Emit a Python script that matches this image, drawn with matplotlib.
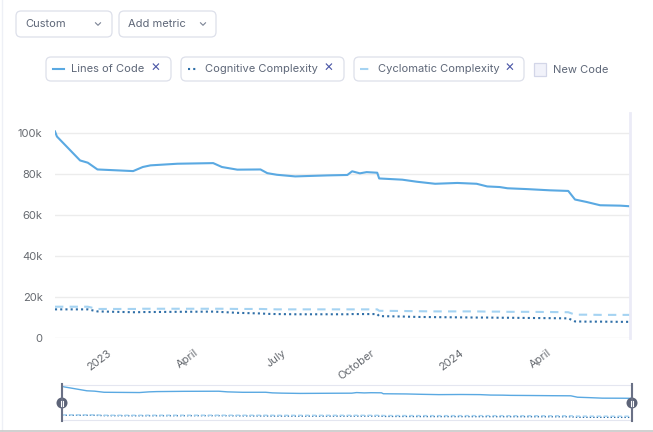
import numpy as np
import pandas as pd
import matplotlib
matplotlib.use('Agg')
import matplotlib.pyplot as plt
import matplotlib.dates as mdates
from matplotlib.patches import FancyBboxPatch, Rectangle, Circle

plt.rcParams['font.family'] = ['Inter', 'DejaVu Sans']

# analysis dates and measure values
dates = pd.to_datetime([
    '2022-11-08', '2022-11-10', '2022-12-04', '2022-12-12', '2022-12-22',
    '2023-01-28', '2023-02-01', '2023-02-07', '2023-02-15', '2023-03-15',
    '2023-04-21', '2023-04-30', '2023-05-16', '2023-06-09', '2023-06-16',
    '2023-06-26', '2023-07-15', '2023-08-18', '2023-09-07', '2023-09-12',
    '2023-09-20', '2023-09-27', '2023-10-08', '2023-10-10', '2023-11-03',
    '2023-11-18', '2023-12-07', '2023-12-30', '2024-01-19', '2024-01-30',
    '2024-02-12', '2024-02-20', '2024-03-11', '2024-04-04', '2024-04-23',
    '2024-04-30', '2024-05-12', '2024-05-26', '2024-06-16', '2024-06-26',
])
linesOfCode = [
    101000, 98500, 86800, 85700, 82400,
    81600, 82400, 83600, 84400, 85200,
    85500, 83600, 82300, 82400, 80600,
    79800, 79000, 79500, 79700, 81500,
    80500, 81100, 80800, 78000, 77400,
    76400, 75400, 75800, 75400, 74100,
    73800, 73200, 72800, 72200, 71900,
    67700, 66500, 64900, 64700, 64400,
]
cognitive = [
    14000, 14000, 14000, 14000, 13000,
    12600, 12600, 12700, 12700, 12800,
    12900, 12700, 12300, 12000, 11800,
    11700, 11600, 11600, 11600, 11700,
    11700, 11700, 11700, 10700, 10500,
    10300, 10200, 10100, 10000, 10000,
    9900, 9900, 9800, 9700, 9600,
    8100, 8000, 8000, 7900, 7900,
]
cyclomatic = [
    15300, 15300, 15300, 15300, 14200,
    14200, 14200, 14300, 14300, 14300,
    14300, 14300, 14200, 14200, 14100,
    14000, 14000, 14000, 14000, 14000,
    14000, 14000, 14000, 13300, 13200,
    13100, 13000, 13000, 13000, 12900,
    12900, 12800, 12800, 12700, 12600,
    11400, 11400, 11300, 11300, 11300,
]
tickDates = pd.to_datetime(['2023-01-01', '2023-04-01', '2023-07-01',
                            '2023-10-01', '2024-01-01', '2024-04-01'])
tickLabels = ['2023', 'April', 'July', 'October', '2024', 'April']
yTicks = [0, 20000, 40000, 60000, 80000, 100000]
yLabels = ['0', '20k', '40k', '60k', '80k', '100k']

locColor = '#5aa9e2'
cogColor = '#2f6fa8'
cycColor = '#a5d3f2'
textColor = '#5e6778'
tickColor = '#666a70'

W, H = 653, 432
fig = plt.figure(figsize=(W / 100, H / 100), dpi=100)

def box(x0, y0, x1, y1):
    return [x0 / W, 1 - y1 / H, (x1 - x0) / W, (y1 - y0) / H]

# main chart
ax = fig.add_axes(box(55, 113, 630, 338))
ax.plot(dates, linesOfCode, color=locColor, lw=1.5)
ax.plot(dates, cognitive, color=cogColor, lw=1.5, ls=(0, (1, 1.5)))
ax.plot(dates, cyclomatic, color=cycColor, lw=1.5, ls=(0, (4, 3)))
ax.set_xlim(dates[0], dates[-1])
ax.set_ylim(0, 110000)
ax.set_yticks(yTicks)
ax.set_yticklabels(yLabels)
ax.set_xticks(tickDates)
ax.set_xticklabels(tickLabels, rotation=37, ha='right', rotation_mode='anchor')
ax.tick_params(axis='both', length=0, labelsize=8, labelcolor=tickColor)
ax.tick_params(axis='y', pad=9)
ax.tick_params(axis='x', pad=7)
ax.grid(axis='y', color='#ececec', lw=1)
ax.set_axisbelow(True)
for side in ['top', 'left', 'bottom']:
    ax.spines[side].set_visible(False)
ax.spines['right'].set_color('#ebebf7')
ax.spines['right'].set_linewidth(2)

# navigator
nav = fig.add_axes(box(62, 385, 632, 420))
nav.plot(dates, linesOfCode, color=locColor, lw=1)
nav.plot(dates, cognitive, color=cogColor, lw=1, ls=(0, (1, 1.5)))
nav.plot(dates, cyclomatic, color=cycColor, lw=1, ls=(0, (3, 2)))
nav.set_xlim(dates[0], dates[-1])
nav.set_ylim(0, 104000)
nav.set_xticks([])
nav.set_yticks([])
for side in nav.spines:
    nav.spines[side].set_color('#e4e6f0')

# ui overlay in pixel coords
ui = fig.add_axes([0, 0, 1, 1], zorder=5)
ui.set_xlim(0, W)
ui.set_ylim(H, 0)
ui.axis('off')
ui.patch.set_alpha(0)

ui.plot([2, 2], [0, 430], color='#eef0f6', lw=1)
ui.plot([0, W], [430.5, 430.5], color='#c8c8c8', lw=1.2)

def chip(x0, y0, x1, y1):
    ui.add_patch(FancyBboxPatch((x0, y0), x1 - x0, y1 - y0,
                                boxstyle='round,pad=0,rounding_size=5',
                                fc='white', ec='#dde0ea', lw=0.9))

def chevron(x, y):
    ui.plot([x - 2.5, x, x + 2.5], [y - 1.2, y + 1.3, y - 1.2], color='#7a8294', lw=0.8)

chip(16, 11, 112, 37)
ui.text(25, 24, 'Custom', fontsize=8, color=textColor, va='center')
chevron(98, 24)
chip(119, 11, 216, 37)
ui.text(128, 24, 'Add metric', fontsize=8, color=textColor, va='center')
chevron(203, 24)

crossColor = '#4a56a6'
chip(46, 57, 171, 81)
ui.plot([53, 64], [69, 69], color=locColor, lw=1.5)
ui.text(71, 69, 'Lines of Code', fontsize=8, color=textColor, va='center')
ui.text(155, 69, '✕', fontsize=8.5, color=crossColor, va='center', ha='center')

chip(181, 57, 344, 81)
ui.plot([188, 198], [69, 69], color=cogColor, lw=1.5, ls=(0, (1, 1.5)))
ui.text(205, 69, 'Cognitive Complexity', fontsize=8, color=textColor, va='center')
ui.text(328, 69, '✕', fontsize=8.5, color=crossColor, va='center', ha='center')

chip(354, 57, 524, 81)
ui.plot([360, 373], [69, 69], color=cycColor, lw=1.5, ls=(0, (4, 3)))
ui.text(378, 69, 'Cyclomatic Complexity', fontsize=8, color=textColor, va='center')
ui.text(509, 69, '✕', fontsize=8.5, color=crossColor, va='center', ha='center')

ui.add_patch(Rectangle((534, 63), 12, 13, fc='#f1f2fa', ec='#d3d6e8', lw=0.9))
ui.text(553, 70, 'New Code', fontsize=8, color=textColor, va='center')

# navigator handles
for hx in [62, 632]:
    ui.plot([hx, hx], [384, 421], color='#6a7186', lw=1.5)
    ui.add_patch(Circle((hx, 403), 5.5, fc='#5d6478', ec='none'))
    ui.plot([hx - 1.3, hx - 1.3], [400.5, 405.5], color='white', lw=0.8)
    ui.plot([hx + 1.3, hx + 1.3], [400.5, 405.5], color='white', lw=0.8)

fig.savefig('out.png', dpi=100)
